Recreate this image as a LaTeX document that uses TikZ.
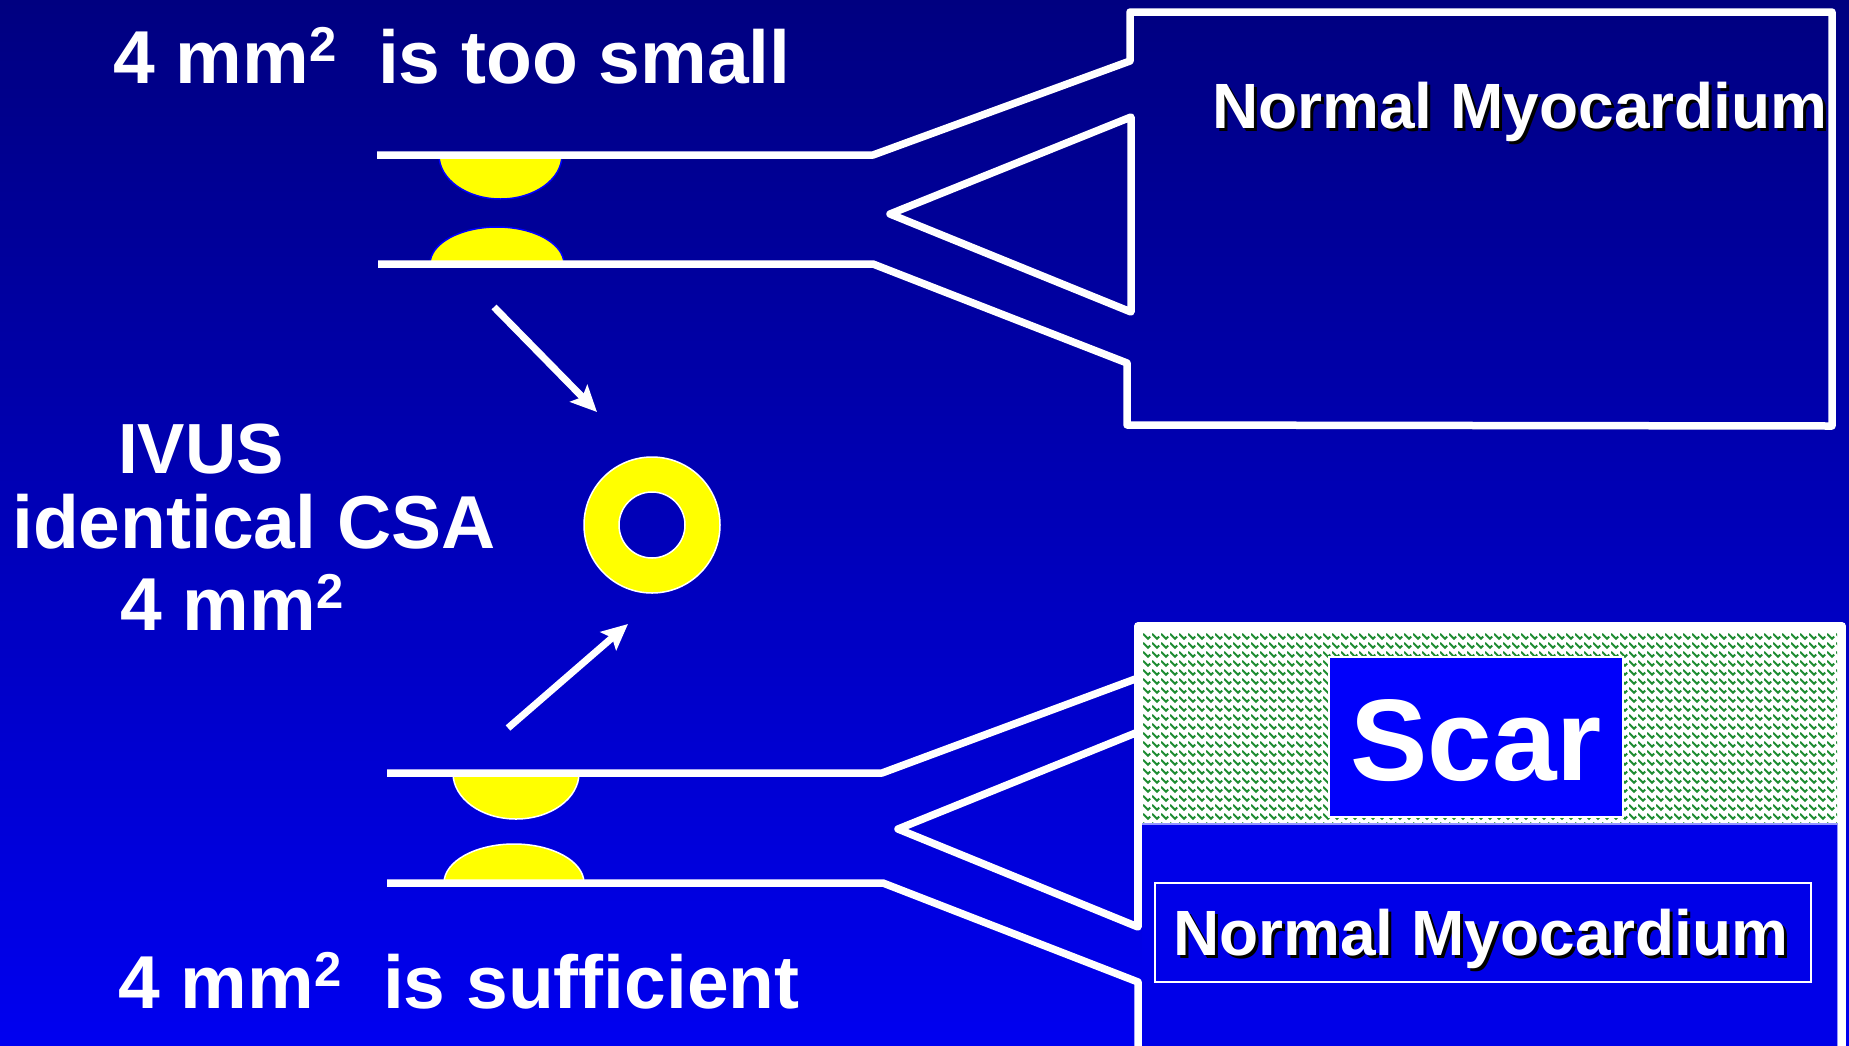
\documentclass[tikz,border=0pt]{standalone}
\usepackage{fontspec}
\setmainfont{Liberation Sans}
\usetikzlibrary{arrows.meta,patterns}

\definecolor{bgtop}{RGB}{0,0,128}
\definecolor{bgbot}{RGB}{0,0,240}
\definecolor{plaqueyellow}{RGB}{255,255,0}
\definecolor{scarblue}{RGB}{0,0,250}
\definecolor{lowblue}{RGB}{0,0,232}
\definecolor{rimblue}{RGB}{150,150,255}
\definecolor{weavegreen}{RGB}{30,140,50}

% herringbone-like weave used for the scar tissue
\pgfdeclarepatternformonly{weave}{\pgfpointorigin}{\pgfpoint{9pt}{9pt}}{\pgfpoint{9pt}{9pt}}{%
  \pgfsetlinewidth{2.2pt}%
  \pgfpathmoveto{\pgfpoint{0pt}{8pt}}%
  \pgfpathlineto{\pgfpoint{5.5pt}{2.5pt}}%
  \pgfpathlineto{\pgfpoint{8pt}{5pt}}%
  \pgfusepath{stroke}}

% superscript for the area unit
\newcommand\sqr[1]{\raisebox{22pt}{\fontsize{49}{49}\selectfont #1}}

\begin{document}
\begin{tikzpicture}[x=1pt,y=-1pt,
  wall/.style={draw=white, line width=7.5pt, line join=round},
  pointer/.style={draw=white, line width=7pt, -{Stealth[length=26pt,width=24pt,inset=5pt]}},
  headline/.style={text=white, inner sep=0pt, anchor=base west, font=\fontsize{75}{80}\selectfont\bfseries},
  tissuetext/.style={inner sep=0pt, anchor=base west, font=\fontsize{64}{70}\selectfont\bfseries},
  plaqueA/.style={fill=plaqueyellow, draw=blue, line width=1.5pt},
  plaqueB/.style={fill=plaqueyellow, draw=white, line width=1.5pt}]

\useasboundingbox (0,0) rectangle (1849,1045);
\shade[top color=bgtop, bottom color=bgbot] (0,0) rectangle (1849,1045);

% ---------- upper vessel: normal myocardium ----------
\path[plaqueA] (439,155) arc[start angle=180,end angle=0,x radius=61.5,y radius=44] -- cycle;
\path[plaqueA] (430,264) arc[start angle=180,end angle=360,x radius=67,y radius=37] -- cycle;
\draw[wall] (377,155) -- (873,155) -- (1130,61) -- (1130,12) -- (1832,12)
  -- (1832,426) -- (1127,425) -- (1127,363) -- (873,264) -- (378,264);
\draw[wall] (1131,117) -- (890,214) -- (1131,312) -- cycle;

\node[tissuetext, text=black] (nmtopshadow) at (1215,131) {Normal Myocardium};
\node[tissuetext, text=white] (nmtop) at (1212,128) {Normal Myocardium};

% ---------- lower vessel: scar over normal myocardium ----------
\fill[white] (1138,626) rectangle (1842,826);
\fill[pattern=weave, pattern color=weavegreen] (1143,633) rectangle (1837,822);
\fill[lowblue] (1142,824) rectangle (1838,1050);
\draw[rimblue, line width=1.5pt] (1142,824) -- (1838,824) -- (1838,1050);

\node[draw=white, line width=2pt, fill=scarblue, minimum width=294pt, minimum height=160pt,
  inner sep=0pt] (scarbox) at (1476,737) {};
\node[text=white, inner sep=0pt, anchor=base, font=\fontsize{116}{116}\selectfont\bfseries]
  (scar) at (1476,780) {Scar};

\node[draw=white, line width=2pt, minimum width=656pt, minimum height=99pt, inner sep=0pt]
  (nmbox) at (1483,932.5) {};
\node[tissuetext, text=black] (nmlowshadow) at (1176,958) {Normal Myocardium};
\node[tissuetext, text=white] (nmlow) at (1173,955) {Normal Myocardium};

\path[plaqueB] (453,773) arc[start angle=180,end angle=0,x radius=63,y radius=46] -- cycle;
\path[plaqueB] (444,883) arc[start angle=180,end angle=360,x radius=70,y radius=39] -- cycle;
\draw[wall] (1138,927) -- (1138,626) -- (1842,626) -- (1842,1052);
\draw[wall] (387,773) -- (882,773) -- (1138,678);
\draw[wall] (1138,732) -- (898,829) -- (1138,927) -- cycle;
\draw[wall] (387,883) -- (883,883) -- (1138,982) -- (1138,1052);

% ---------- IVUS cross-section ----------
\coordinate (ringc) at (652,525);
\path[fill=plaqueyellow, even odd rule] (ringc) circle[radius=68] (ringc) circle[radius=33];
\draw[white, line width=1.5pt] (ringc) circle[radius=68] (ringc) circle[radius=33];

\coordinate (tailA) at (494,307);
\coordinate (tipA) at (597,412);
\coordinate (tailB) at (508,728);
\coordinate (tipB) at (628,624);
\draw[pointer] (tailA) -- (tipA);
\draw[pointer] (tailB) -- (tipB);

% ---------- captions ----------
\node[headline] (toptitle) at (113,83) {4 mm\sqr{2}~~is too small};
\node[headline, font=\fontsize{71}{80}\selectfont\bfseries] (ivus) at (118,473) {IVUS};
\node[headline] (csa) at (12,548) {identical CSA};
\node[headline] (area) at (120,630) {4 mm\sqr{2}};
\node[headline] (bottomtitle) at (118,1008) {4 mm\sqr{2}~~is sufficient};

\end{tikzpicture}
\end{document}
